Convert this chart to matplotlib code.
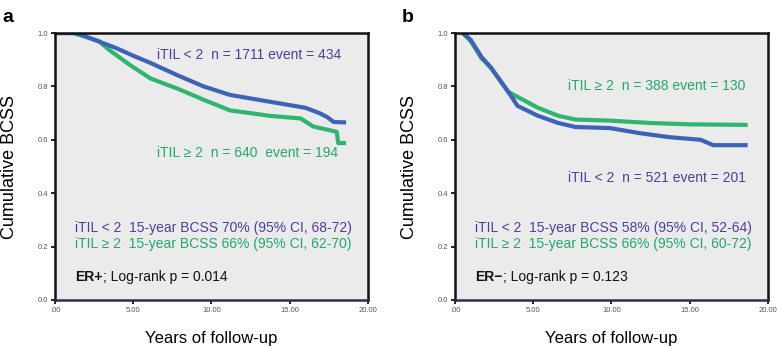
import numpy as np
import matplotlib.pyplot as plt

plt.rcParams['font.family'] = ['Liberation Sans', 'DejaVu Sans']

# ---- data ----
# panel a, ER+
a_low_t = [0, 1.4, 2.5, 3.9, 5.0, 6.1, 7.9, 9.5, 11.2, 13.0, 15.0, 16.0, 16.9, 17.4, 17.8, 18.6]
a_low_s = [1.0, 1.0, 0.975, 0.944, 0.915, 0.888, 0.84, 0.80, 0.768, 0.75, 0.73, 0.72, 0.70, 0.685, 0.667, 0.665]
a_high_t = [0, 1.15, 2.0, 2.8, 3.5, 4.8, 6.1, 7.9, 9.5, 11.2, 12.5, 13.7, 15.7, 16.5, 18.0, 18.1, 18.6]
a_high_s = [1.0, 1.0, 0.985, 0.97, 0.935, 0.88, 0.83, 0.79, 0.75, 0.71, 0.70, 0.69, 0.68, 0.65, 0.63, 0.588, 0.588]

# panel b, ER-
b_low_t = [0.5, 1.0, 1.7, 2.3, 3.4, 4.0, 5.3, 6.6, 7.7, 9.9, 11.8, 13.7, 15.7, 16.5, 18.7]
b_low_s = [1.0, 0.975, 0.91, 0.87, 0.78, 0.727, 0.69, 0.663, 0.648, 0.644, 0.625, 0.61, 0.60, 0.58, 0.58]
b_high_t = [0.5, 1.0, 1.7, 2.3, 3.4, 3.9, 5.3, 6.6, 7.7, 9.9, 12.5, 15.0, 18.7]
b_high_s = [1.0, 0.97, 0.905, 0.87, 0.78, 0.764, 0.72, 0.69, 0.676, 0.672, 0.663, 0.658, 0.656]

yticks = [0.0, 0.2, 0.4, 0.6, 0.8, 1.0]
ytick_labels = ['0.0', '0.2', '0.4', '0.6', '0.8', '1.0']
xticks = [0, 5, 10, 15, 20]
xtick_labels = ['.00', '5.00', '10.00', '15.00', '20.00']

BLUE = '#3d63b8'
GREEN = '#2fb56e'
BLUE_TXT = '#4b3f9e'
GREEN_TXT = '#22a86a'

panels = [
    dict(label='a', pos=[0.0708, 0.138, 0.4028, 0.767],
         low=(a_low_t, a_low_s), high=(a_high_t, a_high_s),
         n_low=('iTIL < 2  n = 1711 event = 434', 6.5, 0.918),
         n_high=('iTIL \u2265 2  n = 640  event = 194', 6.5, 0.55),
         bcss_low='iTIL < 2  15-year BCSS 70% (95% CI, 68-72)',
         bcss_high='iTIL \u2265 2  15-year BCSS 66% (95% CI, 62-70)',
         er='ER+', p='; Log-rank p = 0.014', tx=1.3),
    dict(label='b', pos=[0.5856, 0.138, 0.4028, 0.767],
         low=(b_low_t, b_low_s), high=(b_high_t, b_high_s),
         n_high=('iTIL \u2265 2  n = 388 event = 130', 7.2, 0.80),
         n_low=('iTIL < 2  n = 521 event = 201', 7.2, 0.457),
         bcss_low='iTIL < 2  15-year BCSS 58% (95% CI, 52-64)',
         bcss_high='iTIL \u2265 2  15-year BCSS 66% (95% CI, 60-72)',
         er='ER\u2212', p='; Log-rank p = 0.123', tx=1.3),
]

fig = plt.figure(figsize=(7.77, 3.48), dpi=100)

for p in panels:
    ax = fig.add_axes(p['pos'])
    ax.set_facecolor('#ebebeb')
    ax.plot(p['high'][0], p['high'][1], color=GREEN, lw=3, solid_capstyle='butt')
    ax.plot(p['low'][0], p['low'][1], color=BLUE, lw=3, solid_capstyle='butt')

    ax.set_xlim(0, 20)
    ax.set_ylim(0, 1.0)
    ax.set_xticks(xticks)
    ax.set_xticklabels(xtick_labels)
    ax.set_yticks(yticks)
    ax.set_yticklabels(ytick_labels)
    ax.tick_params(labelsize=5.5, labelcolor='#555555', length=3, width=1.2, pad=2)
    for s in ax.spines.values():
        s.set_linewidth(1.8)
        s.set_color('#111111')
    ax.spines['bottom'].set_color('#2a2a5a')

    ax.set_ylabel('Cumulative BCSS', fontsize=13, labelpad=14)
    ax.set_xlabel('Years of follow-up', fontsize=12, labelpad=12)

    txt, x, y = p['n_low']
    ax.text(x, y, txt, color=BLUE_TXT, fontsize=10, va='center')
    txt, x, y = p['n_high']
    ax.text(x, y, txt, color=GREEN_TXT, fontsize=10, va='center')
    ax.text(p['tx'], 0.27, p['bcss_low'], color=BLUE_TXT, fontsize=10, va='center')
    ax.text(p['tx'], 0.21, p['bcss_high'], color=GREEN_TXT, fontsize=10, va='center')
    t = ax.text(p['tx'], 0.086, p['er'], color='#111111', fontsize=10, va='center', fontweight='bold')
    ax.annotate(p['p'], xycoords=t, xy=(1, 0.5), va='center', color='#111111', fontsize=10)

    fig.text(p['pos'][0] - 0.068, 0.975, p['label'], fontsize=14, fontweight='bold', va='top')

fig.savefig('out.png', dpi=100)
